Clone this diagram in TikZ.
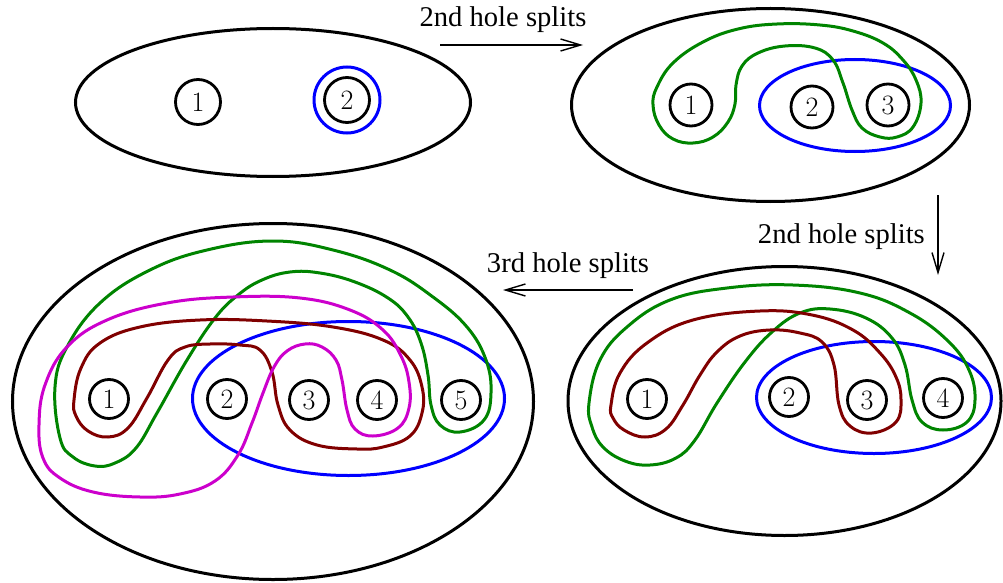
\documentclass[tikz,border=0pt]{standalone}
\usepackage{fontspec}
\newfontfamily\labfont{Liberation Serif}
\usetikzlibrary{arrows.meta}
\definecolor{cgreen}{RGB}{0,132,0}
\definecolor{cred}{RGB}{128,0,0}
\definecolor{cmag}{RGB}{204,0,204}
\definecolor{cblue}{RGB}{0,0,255}
\begin{document}
\begin{tikzpicture}[x=1pt,y=-1pt,
  hole/.style={circle,draw,line width=2.8pt,inner sep=0pt,font=\fontsize{28}{32}\selectfont},
  bigline/.style={draw,line width=3pt},
  loopline/.style={line width=3pt},
  smoothloop/.style={smooth cycle,tension=0.68},
  steptext/.style={font=\labfont\fontsize{28.6}{34}\selectfont,inner sep=0pt},
  arr/.style={line width=1.4pt,-{Straight Barb[length=20pt,width=12pt,line width=1.4pt]}}
]
\useasboundingbox (0,0) rectangle (1003,583);

% ---------- panel 1 ----------
\draw[bigline] (273,102.5) ellipse [x radius=197.5, y radius=74];
\node[hole,minimum size=45pt] (a1) at (198,102) {1};
\node[hole,minimum size=45pt] (a2) at (347,100) {2};
\draw[cblue,loopline] (a2.center) circle [radius=33];

% ---------- panel 2 ----------
\draw[bigline] (770.5,105) ellipse [x radius=199, y radius=96.5];
\node[hole,minimum size=42pt] (b1) at (691,105) {1};
\node[hole,minimum size=42pt] (b2) at (812,107) {2};
\node[hole,minimum size=42pt] (b3) at (888,105) {3};
\draw[cblue,loopline] (855,105.5) ellipse [x radius=95.5, y radius=46];
\draw[cgreen,loopline] plot[smoothloop] coordinates {
 (736,85) (742,66) (758,53) (785,46) (815,48) (833,60) (843,83) (852,110)
 (862,128) (880,137) (897,137) (913,127) (921,103) (916,80) (903,60) (883,43)
 (853,31) (820,25) (777,24) (738,29) (703,42) (673,63) (657,87) (653,105)
 (659,125) (673,139) (693,143) (713,137) (728,122) (735,104)};

% ---------- panel 3 ----------
\draw[bigline] (784.5,401) ellipse [x radius=216.5, y radius=134.5];
\node[hole,minimum size=39pt] (c1) at (647,399) {1};
\node[hole,minimum size=39pt] (c2) at (789,397) {2};
\node[hole,minimum size=39pt] (c3) at (867,400) {3};
\node[hole,minimum size=39pt] (c4) at (943,398) {4};
\draw[cblue,loopline] (874,397.5) ellipse [x radius=117.5, y radius=56];
\draw[cgreen,loopline] plot[smoothloop] coordinates {
 (589,403) (600,360) (627,327) (670,300) (727,288) (793,285) (860,293) (910,313)
 (948,341) (969,370) (975,400) (967,422) (943,430) (922,422) (912,400)
 (905,365) (892,338) (866,318) (830,309) (800,313) (772,332) (745,362)
 (717,403) (695,440) (676,458) (650,465) (625,461) (603,447) (592,427)};
\draw[cred,loopline] plot[smoothloop] coordinates {
 (611,405) (620,373) (647,343) (693,320) (760,311) (812,315) (853,330) (880,353)
 (896,377) (901,400) (896,422) (872,433) (850,426) (839,405)
 (834,365) (822,342) (800,333) (770,330) (740,336) (717,352) (700,375) (683,405)
 (666,429) (645,437) (624,430) (613,418)};

% ---------- panel 4 ----------
\draw[bigline] (273,401.5) ellipse [x radius=260.5, y radius=178];
\node[hole,minimum size=39pt] (d1) at (109,399) {1};
\node[hole,minimum size=39pt] (d2) at (227,399) {2};
\node[hole,minimum size=39pt] (d3) at (309,400) {3};
\node[hole,minimum size=39pt] (d4) at (377,400) {4};
\node[hole,minimum size=39pt] (d5) at (461,400) {5};
\draw[cblue,loopline] (348.5,398.5) ellipse [x radius=156, y radius=77];
\draw[cgreen,loopline] plot[smoothloop] coordinates {
 (55,387) (67,347) (100,303) (150,270) (207,250) (273,241) (333,250) (390,270)
 (433,297) (467,327) (486,360) (491,393) (484,420) (460,432) (440,425) (431,405)
 (428,375) (421,343) (408,317) (388,298) (355,282) (320,273) (290,272)
 (262,280) (238,295) (215,318) (187,360) (157,413) (136,448) (115,463) (95,466)
 (73,457) (60,438)};
\draw[cred,loopline] plot[smoothloop] coordinates {
 (74,400) (81,368) (100,343) (140,327) (200,320) (267,321) (333,327) (383,340)
 (410,360) (422,387) (422,413) (410,436) (383,447) (357,449) (317,445) (290,430)
 (278,405) (272,372) (260,350) (240,345) (210,344) (185,347) (168,360)
 (147,398) (128,428) (108,437) (88,431) (76,416)};
\draw[cmag,loopline] plot[smoothloop] coordinates {
 (39,425) (45,385) (67,347) (107,320) (167,303) (233,297) (300,298) (350,310)
 (383,330) (401,356) (409,382) (409,408) (398,428) (373,436) (355,429) (347,410)
 (342,380) (336,360) (322,347) (305,344) (287,351) (274,367) (263,393) (252,423)
 (238,455) (215,481) (180,494) (140,497) (93,492) (60,478) (43,458)};

% ---------- arrows and labels ----------
\coordinate (t1s) at (440,45);  \coordinate (t1e) at (583,45);
\coordinate (t2s) at (938,195); \coordinate (t2e) at (938,275);
\coordinate (t3s) at (633,290); \coordinate (t3e) at (503,290);
\draw[arr] (t1s) -- (t1e);
\draw[arr] (t2s) -- (t2e);
\draw[arr] (t3s) -- (t3e);
\node[steptext,anchor=base] (s1) at (503,27) {2nd hole splits};
\node[steptext,anchor=base east] (s2) at (925,243) {2nd hole splits};
\node[steptext,anchor=base] (s3) at (568,272) {3rd hole splits};
\end{tikzpicture}
\end{document}
